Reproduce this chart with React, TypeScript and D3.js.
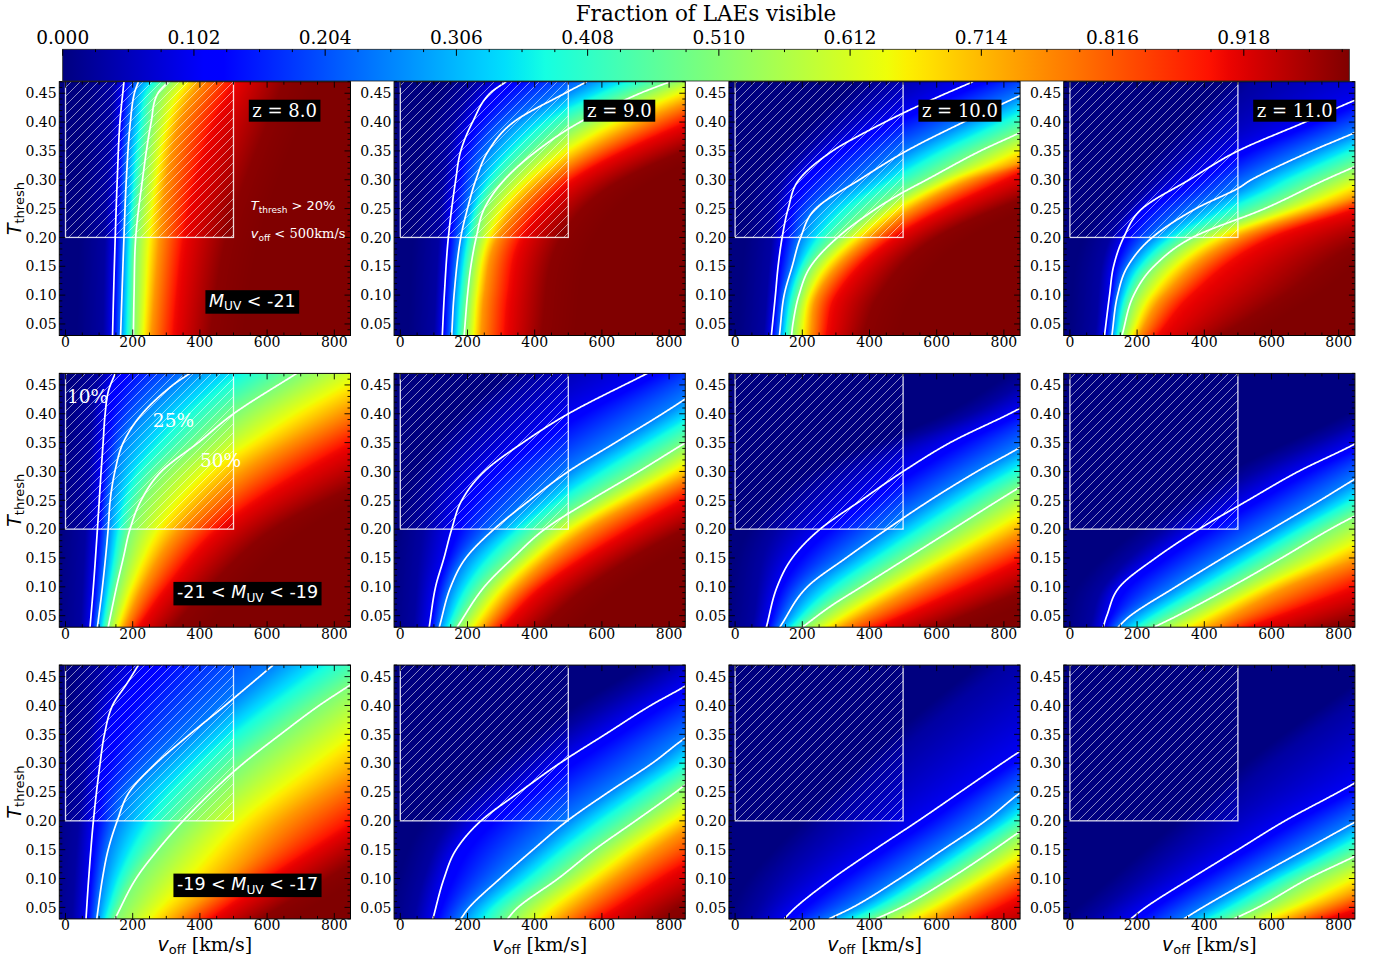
import React, { useMemo, useRef, useLayoutEffect, useState } from 'react';
import * as d3 from 'd3';

type Pt = [number, number]; // [T_thresh, v_off] on one iso-fraction line

// ---------------- data ----------------
const LEVELS = [0.03, 0.1, 0.25, 0.5, 0.75, 0.9, 0.99];
const CONTOUR_LEVEL_INDEX = [1, 2, 3]; // 10%, 25%, 50%
const REDSHIFT_LABELS = ['z = 8.0', 'z = 9.0', 'z = 10.0', 'z = 11.0'];
const MAG_PREFIX = ['', '-21 < ', '-19 < '];
const MAG_SUFFIX = [' < -21', ' < -19', ' < -17'];
const PCT_LABELS = ['10%', '25%', '50%'];
const CBAR_TICKS = d3.range(10).map((i) => i * 0.102);
const CBAR_MINOR = d3.range(40).map((i) => i * 0.0255);
const X_TICKS = [0, 200, 400, 600, 800];
const X_MINOR = d3.range(0, 850, 50);
const Y_TICKS = [0.05, 0.1, 0.15, 0.2, 0.25, 0.3, 0.35, 0.4, 0.45];
const Y_MINOR = d3.range(3, 48).map((i) => i / 100);

// M_UV < -21
const Z8_BRIGHT: Pt[][] = [
  [[0.03, 112], [0.2, 118], [0.47, 140]],
  [[0.03, 140], [0.1, 143], [0.2, 148], [0.3, 154], [0.4, 162], [0.47, 174]],
  [[0.03, 164], [0.1, 168], [0.2, 174], [0.3, 181], [0.4, 193], [0.45, 205], [0.47, 217]],
  [[0.03, 202], [0.1, 204], [0.2, 209], [0.3, 229], [0.4, 255], [0.45, 275], [0.47, 306]],
  [[0.03, 255], [0.1, 265], [0.2, 280], [0.3, 300], [0.4, 340], [0.47, 400]],
  [[0.03, 320], [0.1, 330], [0.2, 350], [0.3, 385], [0.4, 440], [0.47, 500]],
  [[0.03, 430], [0.2, 480], [0.47, 650]],
];
const Z9_BRIGHT: Pt[][] = [
  [[0.03, 100], [0.2, 115], [0.3, 130], [0.4, 160], [0.47, 220]],
  [[0.03, 125], [0.1, 131], [0.2, 143], [0.3, 165], [0.35, 180], [0.4, 215], [0.45, 267], [0.47, 315]],
  [[0.03, 153], [0.1, 160], [0.2, 180], [0.25, 200], [0.3, 225], [0.35, 262], [0.4, 337], [0.45, 490], [0.47, 555]],
  [[0.03, 190], [0.1, 200], [0.15, 210], [0.2, 226], [0.25, 250], [0.3, 310], [0.35, 406], [0.4, 535], [0.45, 714], [0.47, 803]],
  [[0.03, 240], [0.1, 250], [0.2, 290], [0.3, 430], [0.4, 720], [0.47, 1000]],
  [[0.03, 310], [0.1, 320], [0.2, 360], [0.3, 510], [0.4, 850], [0.47, 1150]],
  [[0.03, 420], [0.2, 480], [0.3, 660], [0.47, 1400]],
];
const Z10_BRIGHT: Pt[][] = [
  [[0.03, 85], [0.2, 110], [0.3, 140], [0.4, 300], [0.47, 450]],
  [[0.03, 108], [0.1, 120], [0.15, 128], [0.2, 140], [0.25, 158], [0.3, 190], [0.35, 290], [0.38, 380], [0.415, 498], [0.44, 590], [0.47, 708]],
  [[0.03, 132], [0.1, 146], [0.15, 170], [0.2, 195], [0.25, 240], [0.3, 370], [0.35, 510], [0.4, 680], [0.446, 849], [0.47, 940]],
  [[0.03, 168], [0.05, 172], [0.1, 190], [0.15, 225], [0.2, 305], [0.25, 420], [0.275, 490], [0.3, 570], [0.35, 730], [0.382, 849], [0.47, 1150]],
  [[0.03, 225], [0.1, 245], [0.2, 400], [0.3, 700], [0.33, 849], [0.47, 1300]],
  [[0.03, 270], [0.1, 300], [0.2, 470], [0.3, 800], [0.47, 1500]],
  [[0.03, 380], [0.1, 430], [0.2, 600], [0.3, 1000], [0.47, 1800]],
];
const Z11_BRIGHT: Pt[][] = [
  [[0.03, 75], [0.2, 120], [0.3, 250], [0.4, 420], [0.47, 550]],
  [[0.03, 103], [0.1, 118], [0.15, 130], [0.2, 160], [0.25, 215], [0.3, 355], [0.35, 500], [0.4, 700], [0.438, 849], [0.47, 990]],
  [[0.03, 125], [0.1, 142], [0.15, 172], [0.2, 245], [0.25, 375], [0.285, 500], [0.3, 540], [0.35, 720], [0.382, 849], [0.47, 1170]],
  [[0.03, 155], [0.1, 190], [0.15, 250], [0.2, 365], [0.25, 580], [0.3, 760], [0.323, 849], [0.47, 1400]],
  [[0.03, 205], [0.1, 280], [0.2, 500], [0.27, 849], [0.47, 1600]],
  [[0.03, 260], [0.1, 360], [0.2, 600], [0.25, 849], [0.47, 1800]],
  [[0.03, 450], [0.1, 640], [0.2, 900], [0.47, 2500]],
];
// -21 < M_UV < -19
const Z8_MID: Pt[][] = [
  [[0.03, 45], [0.2, 60], [0.4, 80], [0.47, 100]],
  [[0.03, 73], [0.1, 83], [0.2, 95], [0.3, 106], [0.35, 112], [0.4, 118], [0.44, 128], [0.47, 148]],
  [[0.03, 95], [0.1, 110], [0.2, 127], [0.25, 133], [0.3, 147], [0.35, 172], [0.4, 228], [0.45, 320], [0.47, 370]],
  [[0.03, 127], [0.1, 152], [0.15, 172], [0.2, 192], [0.25, 225], [0.3, 285], [0.35, 395], [0.4, 500], [0.47, 688]],
  [[0.03, 175], [0.1, 230], [0.2, 340], [0.3, 530], [0.4, 820], [0.47, 1050]],
  [[0.03, 215], [0.1, 300], [0.2, 450], [0.3, 700], [0.4, 1020], [0.47, 1300]],
  [[0.03, 320], [0.1, 430], [0.2, 620], [0.3, 950], [0.47, 1550]],
];
const Z9_MID: Pt[][] = [
  [[0.03, 40], [0.2, 70], [0.3, 120], [0.4, 250], [0.47, 400]],
  [[0.03, 86], [0.1, 105], [0.15, 130], [0.2, 153], [0.25, 183], [0.3, 250], [0.35, 365], [0.4, 500], [0.47, 735]],
  [[0.03, 116], [0.1, 150], [0.15, 195], [0.2, 279], [0.25, 385], [0.3, 500], [0.35, 640], [0.4, 780], [0.426, 849], [0.47, 960]],
  [[0.03, 169], [0.1, 250], [0.15, 335], [0.2, 430], [0.25, 565], [0.3, 710], [0.35, 849], [0.47, 1200]],
  [[0.03, 250], [0.1, 350], [0.2, 560], [0.3, 880], [0.47, 1400]],
  [[0.03, 300], [0.1, 420], [0.2, 680], [0.3, 1000], [0.47, 1600]],
  [[0.03, 420], [0.1, 560], [0.2, 850], [0.47, 2000]],
];
const Z10_MID: Pt[][] = [
  [[0.03, 50], [0.2, 120], [0.3, 300], [0.4, 700], [0.47, 900]],
  [[0.03, 93], [0.1, 125], [0.15, 170], [0.2, 253], [0.25, 375], [0.3, 500], [0.35, 640], [0.41, 849], [0.47, 1010]],
  [[0.03, 133], [0.1, 215], [0.15, 330], [0.2, 452], [0.25, 580], [0.3, 720], [0.342, 849], [0.47, 1200]],
  [[0.03, 200], [0.067, 286], [0.1, 376], [0.15, 512], [0.2, 648], [0.25, 784], [0.273, 849], [0.47, 1500]],
  [[0.03, 320], [0.1, 540], [0.195, 849], [0.47, 1700]],
  [[0.03, 420], [0.1, 680], [0.148, 849], [0.47, 2000]],
  [[0.03, 600], [0.09, 849], [0.47, 2500]],
];
const Z11_MID: Pt[][] = [
  [[0.03, 60], [0.1, 100], [0.2, 280], [0.3, 550], [0.4, 900], [0.47, 1100]],
  [[0.03, 99], [0.05, 110], [0.1, 148], [0.15, 255], [0.2, 384], [0.25, 530], [0.3, 680], [0.348, 849], [0.47, 1200]],
  [[0.03, 143], [0.05, 180], [0.1, 315], [0.15, 455], [0.2, 600], [0.25, 745], [0.287, 849], [0.47, 1400]],
  [[0.03, 250], [0.05, 320], [0.1, 480], [0.15, 630], [0.2, 775], [0.223, 849], [0.47, 1700]],
  [[0.03, 420], [0.1, 650], [0.148, 849], [0.47, 2000]],
  [[0.03, 530], [0.102, 849], [0.47, 2200]],
  [[0.03, 760], [0.044, 849], [0.47, 3000]],
];
// -19 < M_UV < -17
const Z8_FAINT: Pt[][] = [
  [[0.03, 20], [0.2, 40], [0.3, 60], [0.4, 80], [0.47, 100]],
  [[0.03, 61], [0.1, 69], [0.2, 83], [0.3, 103], [0.35, 116], [0.4, 140], [0.44, 185], [0.47, 217]],
  [[0.03, 93], [0.1, 110], [0.15, 127], [0.2, 154], [0.25, 190], [0.3, 270], [0.35, 370], [0.4, 475], [0.47, 618]],
  [[0.03, 147], [0.1, 210], [0.15, 275], [0.2, 350], [0.25, 435], [0.3, 530], [0.35, 640], [0.4, 755], [0.436, 849], [0.47, 940]],
  [[0.03, 330], [0.1, 480], [0.2, 650], [0.3, 900], [0.47, 1300]],
  [[0.03, 430], [0.1, 600], [0.2, 860], [0.47, 1600]],
  [[0.03, 580], [0.1, 780], [0.2, 1050], [0.47, 2000]],
];
const Z9_FAINT: Pt[][] = [
  [[0.03, 40], [0.1, 70], [0.2, 150], [0.3, 350], [0.4, 600], [0.47, 800]],
  [[0.03, 97], [0.1, 130], [0.15, 166], [0.2, 240], [0.25, 355], [0.3, 475], [0.35, 610], [0.4, 745], [0.434, 849], [0.47, 940]],
  [[0.03, 180], [0.05, 205], [0.1, 297], [0.15, 395], [0.2, 497], [0.25, 620], [0.3, 750], [0.344, 849], [0.47, 1200]],
  [[0.03, 319], [0.05, 350], [0.1, 470], [0.15, 578], [0.2, 700], [0.25, 820], [0.263, 849], [0.47, 1400]],
  [[0.03, 480], [0.1, 640], [0.185, 849], [0.47, 1700]],
  [[0.03, 590], [0.127, 849], [0.47, 2000]],
  [[0.03, 780], [0.058, 849], [0.47, 2500]],
];
const Z10_FAINT: Pt[][] = [
  [[0.03, 50], [0.1, 120], [0.2, 280], [0.3, 450], [0.4, 650], [0.47, 800]],
  [[0.03, 146], [0.05, 180], [0.1, 290], [0.15, 415], [0.2, 545], [0.25, 670], [0.3, 795], [0.321, 849], [0.47, 1250]],
  [[0.03, 279], [0.05, 350], [0.1, 490], [0.15, 618], [0.2, 745], [0.249, 849], [0.47, 1400]],
  [[0.03, 419], [0.05, 495], [0.1, 640], [0.15, 770], [0.182, 849], [0.47, 1600]],
  [[0.03, 600], [0.116, 849], [0.47, 1800]],
  [[0.03, 720], [0.07, 849], [0.47, 2100]],
  [[0.03, 950], [0.47, 3000]],
];
const Z11_FAINT: Pt[][] = [
  [[0.03, 60], [0.1, 200], [0.2, 400], [0.3, 600], [0.47, 1000]],
  [[0.03, 181], [0.05, 225], [0.1, 360], [0.15, 500], [0.2, 640], [0.25, 800], [0.266, 849], [0.47, 1400]],
  [[0.03, 339], [0.05, 395], [0.1, 545], [0.15, 700], [0.198, 849], [0.47, 1700]],
  [[0.03, 488], [0.05, 560], [0.1, 710], [0.139, 849], [0.47, 1900]],
  [[0.03, 660], [0.075, 849], [0.47, 2200]],
  [[0.03, 760], [0.047, 849], [0.47, 2500]],
  [[0.03, 1000], [0.47, 3500]],
];

const GRID: Pt[][][][] = [
  [Z8_BRIGHT, Z9_BRIGHT, Z10_BRIGHT, Z11_BRIGHT],
  [Z8_MID, Z9_MID, Z10_MID, Z11_MID],
  [Z8_FAINT, Z9_FAINT, Z10_FAINT, Z11_FAINT],
];

// ---------------- layout ----------------
const W = 1377;
const H = 963;
const LEFT0 = 59.3;
const DX = 334.8;
const TOP0 = 81.7;
const DY = 291.7;
const PW = 291.2;
const PH = 253.8;
const V_DOMAIN: [number, number] = [-18.45, 848.2];
const T_DOMAIN: [number, number] = [0.03, 0.47];
const CB = { x0: 62.7, x1: 1349.3, y0: 49.3, y1: 81 };
const PCT_POS: Pt[] = [[0.418, 4.5], [0.377, 260], [0.307, 400]];
const MAG_X = [193, 188.2, 188.2];
const SERIF = "'DejaVu Serif', serif";
const SANS = "'DejaVu Sans', sans-serif";

// matplotlib "jet"
const jetR = d3.scaleLinear().domain([0, 0.35, 0.66, 0.89, 1]).range([0, 0, 1, 1, 0.5]).clamp(true);
const jetG = d3.scaleLinear().domain([0, 0.125, 0.375, 0.64, 0.91, 1]).range([0, 0, 1, 1, 0, 0]).clamp(true);
const jetB = d3.scaleLinear().domain([0, 0.11, 0.34, 0.65, 1]).range([0.5, 1, 1, 0, 0]).clamp(true);
const jetCss = (f: number) =>
  `rgb(${Math.round(jetR(f) * 255)},${Math.round(jetG(f) * 255)},${Math.round(jetB(f) * 255)})`;

function monotone(pts: Pt[]) {
  const xs = pts.map((p) => p[0]);
  const ys = pts.map((p) => p[1]);
  const n = xs.length;
  const d: number[] = [];
  for (let i = 0; i < n - 1; i++) d.push((ys[i + 1] - ys[i]) / (xs[i + 1] - xs[i]));
  const m: number[] = new Array(n).fill(0);
  m[0] = d[0];
  m[n - 1] = d[n - 2];
  for (let i = 1; i < n - 1; i++) m[i] = d[i - 1] * d[i] <= 0 ? 0 : (d[i - 1] + d[i]) / 2;
  for (let i = 0; i < n - 1; i++) {
    if (d[i] === 0) { m[i] = 0; m[i + 1] = 0; continue; }
    const a = m[i] / d[i], b = m[i + 1] / d[i];
    const s = a * a + b * b;
    if (s > 9) { const t = 3 / Math.sqrt(s); m[i] = t * a * d[i]; m[i + 1] = t * b * d[i]; }
  }
  return (x: number) => {
    if (x <= xs[0]) return ys[0] + m[0] * (x - xs[0]);
    if (x >= xs[n - 1]) return ys[n - 1] + m[n - 1] * (x - xs[n - 1]);
    let i = d3.bisectRight(xs, x) - 1;
    if (i > n - 2) i = n - 2;
    const h = xs[i + 1] - xs[i];
    const t = (x - xs[i]) / h, t2 = t * t, t3 = t2 * t;
    return (2 * t3 - 3 * t2 + 1) * ys[i] + (t3 - 2 * t2 + t) * h * m[i] + (-2 * t3 + 3 * t2) * ys[i + 1] + (t3 - t2) * h * m[i + 1];
  };
}

const LUT_N = 1024;
function buildLut() {
  const lut = new Uint8ClampedArray(LUT_N * 3);
  for (let i = 0; i < LUT_N; i++) {
    const f = i / (LUT_N - 1);
    lut[i * 3] = Math.round(jetR(f) * 255);
    lut[i * 3 + 1] = Math.round(jetG(f) * 255);
    lut[i * 3 + 2] = Math.round(jetB(f) * 255);
  }
  return lut;
}

function renderField(levels: Pt[][], lut: Uint8ClampedArray): string {
  const w = Math.round(PW), h = Math.round(PH);
  const canvas = document.createElement('canvas');
  canvas.width = w; canvas.height = h;
  const ctx = canvas.getContext('2d');
  if (!ctx) return '';
  const img = ctx.createImageData(w, h);
  const fx = d3.scaleLinear().domain(V_DOMAIN).range([0, w]);
  const fy = d3.scaleLinear().domain(T_DOMAIN).range([h, 0]);
  const interps = levels.map(monotone);
  const nL = LEVELS.length;
  for (let j = 0; j < h; j++) {
    const T = fy.invert(j + 0.5);
    const lv = interps.map((f) => f(T));
    for (let k = 1; k < nL; k++) lv[k] = Math.max(lv[k], lv[k - 1] + 0.5);
    for (let i = 0; i < w; i++) {
      const v = fx.invert(i + 0.5);
      let f: number;
      if (v <= lv[0]) f = LEVELS[0] * Math.max(0, Math.min(1, (v - (lv[0] - 80)) / 80));
      else if (v >= lv[nL - 1]) f = LEVELS[nL - 1] + (1 - LEVELS[nL - 1]) * Math.min(1, (v - lv[nL - 1]) / 100);
      else {
        let k = 0;
        while (k < nL - 2 && v >= lv[k + 1]) k++;
        f = LEVELS[k] + (LEVELS[k + 1] - LEVELS[k]) * (v - lv[k]) / (lv[k + 1] - lv[k]);
      }
      const li = Math.round(Math.max(0, Math.min(1, f)) * (LUT_N - 1)) * 3;
      const p = (j * w + i) * 4;
      img.data[p] = lut[li]; img.data[p + 1] = lut[li + 1]; img.data[p + 2] = lut[li + 2]; img.data[p + 3] = 255;
    }
  }
  ctx.putImageData(img, 0, 0);
  return canvas.toDataURL();
}

function BoxedText(props: { x: number; y: number; anchor?: string; family: string; size: number; padX?: number; padY?: number; children: React.ReactNode }) {
  const ref = useRef<SVGTextElement>(null);
  const [bb, setBb] = useState<{ x: number; y: number; w: number; h: number } | null>(null);
  useLayoutEffect(() => {
    if (ref.current) {
      const b = ref.current.getBBox();
      setBb({ x: b.x, y: b.y, w: b.width, h: b.height });
    }
  }, []);
  const px = props.padX ?? 3.5, py = props.padY ?? 0.5;
  return (
    <g>
      {bb && <rect x={bb.x - px} y={bb.y - py} width={bb.w + 2 * px} height={bb.h + 2 * py} fill="black" />}
      <text ref={ref} x={props.x} y={props.y} textAnchor={props.anchor ?? 'start'} fontFamily={props.family} fontSize={props.size} fill="white">
        {props.children}
      </text>
    </g>
  );
}

export default function App() {
  const panels = useMemo(() => {
    const lut = buildLut();
    const out: any[] = [];
    GRID.forEach((row, r) => {
      row.forEach((levels, c) => {
        const left = LEFT0 + c * DX;
        const top = TOP0 + r * DY;
        const x = d3.scaleLinear().domain(V_DOMAIN).range([left, left + PW]);
        const y = d3.scaleLinear().domain(T_DOMAIN).range([top + PH, top]);
        const Ts = d3.range(0.03, 0.4705, 0.001);
        const contours = CONTOUR_LEVEL_INDEX.map((k) => {
          const f = monotone(levels[k]);
          return d3.line<number>().x((T) => x(f(T))).y((T) => y(T))(Ts) || '';
        });
        out.push({ r, c, left, top, x, y, href: renderField(levels, lut), contours });
      });
    });
    return out;
  }, []);

  const cbx = d3.scaleLinear().domain([0, 1]).range([CB.x0, CB.x1]);
  const gradStops = d3.range(0, 1.0001, 1 / 64);

  return (
    <svg width={W} height={H} style={{ position: 'absolute', left: 0, top: 0, background: 'white' }}>
      <defs>
        <linearGradient id="jetGrad" x1="0" x2="1" y1="0" y2="0">
          {gradStops.map((s, i) => (
            <stop key={i} offset={s} stopColor={jetCss(s)} />
          ))}
        </linearGradient>
        <pattern id="hatch" patternUnits="userSpaceOnUse" width={9} height={9}>
          <path d="M-1,1 L1,-1 M0,9 L9,0 M8,10 L10,8" stroke="white" strokeWidth={0.9} strokeOpacity={0.6} />
        </pattern>
        {panels.map((p) => (
          <clipPath key={`cp${p.r}${p.c}`} id={`clip-${p.r}-${p.c}`}>
            <rect x={p.left} y={p.top} width={PW} height={PH} />
          </clipPath>
        ))}
      </defs>

      {/* colorbar */}
      <text x={(CB.x0 + CB.x1) / 2} y={21} textAnchor="middle" fontFamily={SERIF} fontSize={21.5} fill="#000">
        Fraction of LAEs visible
      </text>
      <rect x={CB.x0} y={CB.y0} width={CB.x1 - CB.x0} height={CB.y1 - CB.y0} fill="url(#jetGrad)" stroke="#222" strokeWidth={0.8} />
      {CBAR_MINOR.map((t, i) => (
        <line key={`cbm${i}`} x1={cbx(t)} x2={cbx(t)} y1={CB.y0} y2={CB.y0 + (i % 4 === 0 ? 6.5 : 2.8)} stroke="#000" strokeWidth={1} />
      ))}
      {CBAR_TICKS.map((t, i) => (
        <text key={`cbt${i}`} x={cbx(t)} y={44} textAnchor="middle" fontFamily={SERIF} fontSize={18.5} fill="#000">
          {t.toFixed(3)}
        </text>
      ))}

      {panels.map((p) => {
        const { r, c, left, top, x, y } = p;
        const bottom = top + PH;
        const right = left + PW;
        return (
          <g key={`p${r}${c}`}>
            <g clipPath={`url(#clip-${r}-${c})`}>
              <image href={p.href} x={left} y={top} width={PW} height={PH} preserveAspectRatio="none" />
              <rect x={x(0)} y={y(0.5)} width={x(500) - x(0)} height={y(0.2) - y(0.5)} fill="url(#hatch)" stroke="white" strokeOpacity={0.85} strokeWidth={1.3} />
              {p.contours.map((d: string, i: number) => (
                <path key={i} d={d} fill="none" stroke="white" strokeWidth={1.7} />
              ))}
            </g>
            {/* ticks */}
            {X_MINOR.map((v) => {
              const len = X_TICKS.includes(v) ? 6 : 3;
              return (
                <g key={`xt${v}`}>
                  <line x1={x(v)} x2={x(v)} y1={bottom} y2={bottom - len} stroke="#000" strokeWidth={0.9} />
                  <line x1={x(v)} x2={x(v)} y1={top} y2={top + len} stroke="#000" strokeWidth={0.9} />
                </g>
              );
            })}
            {Y_MINOR.map((t, i) => {
              const major = Y_TICKS.some((m) => Math.abs(m - t) < 1e-6);
              const len = major ? 6 : 3;
              return (
                <g key={`yt${i}`}>
                  <line x1={left} x2={left + len} y1={y(t)} y2={y(t)} stroke="#000" strokeWidth={0.9} />
                  <line x1={right} x2={right - len} y1={y(t)} y2={y(t)} stroke="#000" strokeWidth={0.9} />
                </g>
              );
            })}
            <rect x={left} y={top} width={PW} height={PH} fill="none" stroke="#000" strokeWidth={1} />
            {X_TICKS.map((v) => (
              <text key={`xl${v}`} x={x(v)} y={bottom + 11.5} textAnchor="middle" fontFamily={SERIF} fontSize={14} fill="#000">
                {v}
              </text>
            ))}
            {Y_TICKS.map((t) => (
              <text key={`yl${t}`} x={left - 2.6} y={y(t) + 5.2} textAnchor="end" fontFamily={SERIF} fontSize={14} fill="#000">
                {t.toFixed(2)}
              </text>
            ))}

            {/* annotations */}
            {r === 0 && (
              <BoxedText x={left + 193} y={top + 35.5} family={SERIF} size={18}>
                {REDSHIFT_LABELS[c]}
              </BoxedText>
            )}
            {c === 0 && (
              <BoxedText x={left + MAG_X[r]} y={top + 225} anchor="middle" family={SANS} size={17.5}>
                <tspan>{MAG_PREFIX[r]}</tspan>
                <tspan fontStyle="italic">M</tspan>
                <tspan fontSize={12.2} dy={3.5}>UV</tspan>
                <tspan dy={-3.5}>{MAG_SUFFIX[r]}</tspan>
              </BoxedText>
            )}
            {r === 0 && c === 0 && (
              <g fill="white">
                <text x={left + 191.5} y={top + 128.3} fontFamily={SANS} fontSize={13}>
                  <tspan fontStyle="italic">T</tspan>
                  <tspan fontSize={9} dy={2.5}>thresh</tspan>
                  <tspan dy={-2.5}>{' > 20%'}</tspan>
                </text>
                <text x={left + 191.5} y={top + 156.3} fontFamily={SANS} fontSize={13}>
                  <tspan fontStyle="italic">v</tspan>
                  <tspan fontSize={9} dy={2.5}>off</tspan>
                  <tspan dy={-2.5}>{' < '}</tspan>
                  <tspan fontFamily={SERIF}>500km/s</tspan>
                </text>
              </g>
            )}
            {r === 1 && c === 0 &&
              PCT_LABELS.map((s, i) => (
                <text key={s} x={x(PCT_POS[i][1])} y={y(PCT_POS[i][0])} fontFamily={SERIF} fontSize={18.5} fill="white">
                  {s}
                </text>
              ))}
            {c === 0 && (
              <text transform={`translate(21, ${top + PH / 2}) rotate(-90)`} textAnchor="middle" fontFamily={SANS} fontSize={19} fill="#000">
                <tspan fontStyle="italic">T</tspan>
                <tspan fontSize={13} dy={2.5}>thresh</tspan>
              </text>
            )}
            {r === 2 && (
              <text x={left + PW / 2} y={bottom + 32} textAnchor="middle" fontFamily={SANS} fontSize={19} fill="#000">
                <tspan fontStyle="italic">v</tspan>
                <tspan fontSize={13} dy={3}>off</tspan>
                <tspan dy={-3} fontFamily={SERIF}>{' [km/s]'}</tspan>
              </text>
            )}
          </g>
        );
      })}
    </svg>
  );
}
